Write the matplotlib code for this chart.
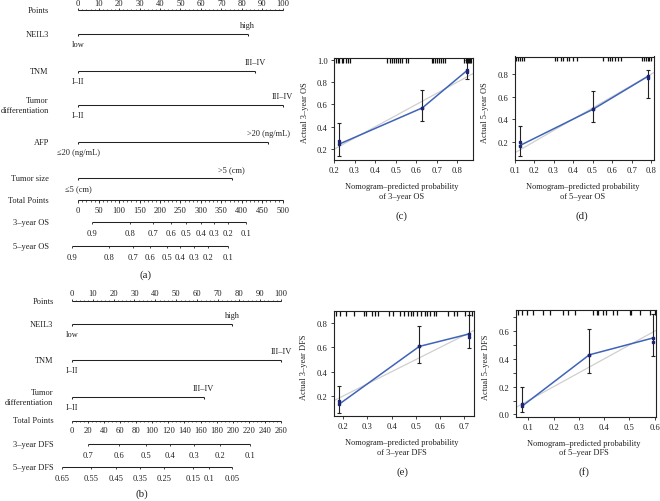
import numpy as np
import matplotlib
matplotlib.use("Agg")
import matplotlib.pyplot as plt

plt.rcParams['font.family'] = ['Liberation Serif', 'DejaVu Serif']

W, H = 660, 502
INK = '#222222'

# ---------------- nomogram (a): overall survival ----------------
a_point_ticks = list(range(0, 101, 10))
a_vars = ["NEIL3", "TNM", "Tumor\ndifferentiation", "AFP", "Tumor size"]
a_low = ["low", "I–II", "I–II", "≤20 (ng/mL)", "≤5 (cm)"]
a_high = ["high", "III–IV", "III–IV", ">20 (ng/mL)", ">5 (cm)"]
a_high_pts = [83, 86.5, 100, 93, 75]
a_total_ticks = list(range(0, 501, 50))
a_total_max = 500
os3_labels = ["0.9", "0.8", "0.7", "0.6", "0.5", "0.4", "0.3", "0.2", "0.1"]
os3_pos = [34, 126, 183, 227, 264, 299, 332, 367, 411]
os5_labels = ["0.9", "0.8", "0.7", "0.6", "0.5", "0.4", "0.3", "0.2", "0.1"]
os5_pos = [-15, 76, 133, 175, 216, 250, 283, 318, 365]

# ---------------- nomogram (b): disease-free survival ----------------
b_point_ticks = list(range(0, 101, 10))
b_vars = ["NEIL3", "TNM", "Tumor\ndifferentiation"]
b_low = ["low", "I–II", "I–II"]
b_high = ["high", "III–IV", "III–IV"]
b_high_pts = [76.7, 100, 63]
b_total_ticks = list(range(0, 261, 20))
b_total_max = 260
dfs3_labels = ["0.7", "0.6", "0.5", "0.4", "0.3", "0.2", "0.1"]
dfs3_pos = [20, 59, 92, 122, 152, 184, 222]
dfs5_labels = ["0.65", "0.55", "0.45", "0.35", "0.25", "0.15", "0.1", "0.05"]
dfs5_pos = [-12, 24, 55, 85, 115, 151, 170, 199]

# ---------------- calibration curves ----------------
c_pred = [0.224, 0.63, 0.848]
c_obs = [0.245, 0.57, 0.905]
c_obs2 = [0.278, 0.57, 0.89]
c_lo = [0.14, 0.448, 0.824]
c_hi = [0.433, 0.73, 1.0]
c_rug = [0.21, 0.22, 0.225, 0.24, 0.245, 0.26, 0.27, 0.28, 0.46, 0.47, 0.48,
         0.49, 0.50, 0.51, 0.52, 0.53, 0.55, 0.56, 0.675, 0.68, 0.69, 0.70,
         0.71, 0.72, 0.73, 0.74, 0.83, 0.84, 0.845, 0.85, 0.855, 0.86, 0.865]

d_pred = [0.126, 0.504, 0.783]
d_obs = [0.165, 0.49, 0.78]
d_obs2 = [0.194, 0.49, 0.762]
d_lo = [0.076, 0.372, 0.587]
d_hi = [0.339, 0.652, 0.84]
d_rug = [0.11, 0.12, 0.13, 0.14, 0.15, 0.31, 0.32, 0.34, 0.35, 0.37, 0.38,
         0.40, 0.42, 0.555, 0.58, 0.59, 0.60, 0.615, 0.63, 0.645, 0.755,
         0.765, 0.775, 0.785, 0.79, 0.80]

e_pred = [0.183, 0.514, 0.72]
e_obs = [0.132, 0.608, 0.711]
e_obs2 = [0.157, 0.608, 0.686]
e_lo = [0.056, 0.47, 0.594]
e_hi = [0.281, 0.78, 0.864]
e_rug = [0.17, 0.187, 0.212, 0.243, 0.285, 0.296, 0.318, 0.33, 0.345, 0.39,
         0.407, 0.436, 0.45, 0.469, 0.48, 0.49, 0.505, 0.522, 0.538, 0.545,
         0.559, 0.575, 0.585, 0.634, 0.656, 0.67, 0.703, 0.718, 0.731]

f_pred = [0.074, 0.341, 0.592]
f_obs = [0.058, 0.429, 0.55]
f_obs2 = [0.077, 0.429, 0.523]
f_lo = [0.017, 0.299, 0.424]
f_hi = [0.195, 0.617, 0.72]
f_rug = [0.06, 0.073, 0.093, 0.119, 0.159, 0.185, 0.238, 0.258, 0.284, 0.356,
         0.37, 0.376, 0.396, 0.409, 0.436, 0.449, 0.502, 0.508, 0.541, 0.581, 0.6]

fig = plt.figure(figsize=(W / 100, H / 100), dpi=100)


def line(ax, xs, ys, lw=0.75):
    ax.plot(xs, ys, color=INK, lw=lw, clip_on=False, solid_capstyle='butt')


def nomogram(x0, x1, label_px, point_y, point_ticks, var_y, names, low, high,
             high_pts, total_y, total_ticks, total_max, total_minor,
             surv_rows, panel, panel_y):
    ax = fig.add_axes([x0 / W, 0, (x1 - x0) / W, 1])
    ax.set_xlim(0, 100)
    ax.set_ylim(H, 0)
    ax.axis('off')
    ppx = (x1 - x0) / 100.0
    lab_x = (label_px - x0) / ppx
    fs_lab, fs_tick = 6.0, 6.1

    # Points scale
    line(ax, [0, 100], [point_y, point_y])
    for v in np.arange(0, 101, 2):
        line(ax, [v, v], [point_y, point_y - 1.5], lw=0.5)
    for v in point_ticks:
        line(ax, [v, v], [point_y, point_y - 2.5], lw=0.6)
        ax.text(v, point_y - 7.5, str(v), ha='center', va='center',
                fontsize=fs_tick, color=INK)
    ax.text(lab_x, point_y, "Points", ha='right', va='center',
            fontsize=fs_lab, color=INK)

    # predictor scales
    for y, name, lo, hi, hp in zip(var_y, names, low, high, high_pts):
        line(ax, [0, hp], [y, y])
        line(ax, [0, 0], [y, y + 2])
        line(ax, [hp, hp], [y, y + 2])
        ax.text(hp, y - 9, hi, ha='center', va='center', fontsize=fs_lab, color=INK)
        ax.text(0, y + 10, lo, ha='center', va='center', fontsize=fs_lab, color=INK)
        ax.text(lab_x, y, name, ha='right', va='center', fontsize=fs_lab,
                color=INK, linespacing=1.2)

    # Total points scale
    k = 100.0 / total_max
    line(ax, [0, 100], [total_y, total_y])
    for v in np.arange(0, total_max + 0.1, total_minor):
        line(ax, [v * k, v * k], [total_y, total_y + 1.5], lw=0.5)
    for v in total_ticks:
        line(ax, [v * k, v * k], [total_y, total_y + 2.5], lw=0.6)
        ax.text(v * k, total_y + 10, str(v), ha='center', va='center',
                fontsize=fs_tick, color=INK)
    ax.text(lab_x, total_y, "Total Points", ha='right', va='center',
            fontsize=fs_lab, color=INK)

    # survival probability scales
    for y, name, labels, pos in surv_rows:
        line(ax, [pos[0] * k, pos[-1] * k], [y, y])
        for lab, p in zip(labels, pos):
            line(ax, [p * k, p * k], [y, y + 2.2], lw=0.6)
            ax.text(p * k, y + 11, lab, ha='center', va='center',
                    fontsize=fs_tick, color=INK)
        ax.text(lab_x, y, name, ha='right', va='center', fontsize=fs_lab, color=INK)

    fig.text(((x0 + x1) / 2 - 35) / W, 1 - panel_y / H, panel, ha='center',
             va='center', fontsize=7.8, color=INK)


nomogram(78.3, 282.7, 48.8, 11, a_point_ticks, [35, 72, 106, 143, 179],
         a_vars, a_low, a_high, a_high_pts, 201, a_total_ticks, a_total_max, 10,
         [(223, "3–year OS", os3_labels, os3_pos),
          (247, "5–year OS", os5_labels, os5_pos)], "(a)", 275)

nomogram(71.7, 281.0, 53.5, 302, b_point_ticks, [325, 361, 398],
         b_vars, b_low, b_high, b_high_pts, 421.5, b_total_ticks, b_total_max, 5,
         [(445, "3–year DFS", dfs3_labels, dfs3_pos),
          (468, "5–year DFS", dfs5_labels, dfs5_pos)], "(b)", 494)


def calib(box, pred, obs, obs2, lo, hi, rug, xlim, ylim, xticks, yticks,
          ylabel, xlabel, letter, ylab_x, minor=None):
    l, r, t, b = box
    ax = fig.add_axes([l / W, 1 - b / H, (r - l) / W, (b - t) / H])
    ax.set_xlim(*xlim)
    ax.set_ylim(*ylim)
    ax.plot(xlim, xlim, color='#cfcfcf', lw=0.9, zorder=1)
    ax.errorbar(pred, obs, yerr=[np.subtract(obs, lo), np.subtract(hi, obs)],
                fmt='none', ecolor=INK, elinewidth=0.8, capsize=1.3,
                capthick=0.8, zorder=2)
    ax.plot(pred, obs, color='#3e63b8', lw=1.1, zorder=3)
    ax.plot(pred, obs, 's', ms=2.0, color='#1d2470', zorder=4)
    ax.plot(pred, obs2, 's', ms=2.0, color='#1d2470', zorder=4)
    ax.vlines(rug, 0.955, 1.0, transform=ax.get_xaxis_transform(),
              color='#111111', lw=0.9)
    ax.set_xticks(xticks)
    ax.set_xticklabels([f"{v:.1f}" for v in xticks])
    ax.set_yticks(yticks)
    ax.set_yticklabels([f"{v:.1f}" for v in yticks])
    if minor is not None:
        ax.set_yticks(minor, minor=True)
    ax.tick_params(labelsize=6.2, length=2.5, width=0.6, pad=2, colors=INK)
    ax.tick_params(which='minor', length=2.5, width=0.6, colors=INK)
    for s in ax.spines.values():
        s.set_linewidth(0.8)
        s.set_color(INK)
    cx = (l + r) / 2
    fig.text(ylab_x / W, 1 - ((t + b) / 2 + 3) / H, ylabel, rotation=90,
             ha='center', va='center', fontsize=6.0, color=INK)
    fig.text((cx - 2) / W, 1 - (b + 31) / H, xlabel, ha='center', va='center',
             fontsize=6.0, color=INK, linespacing=1.25)
    fig.text((cx - 2) / W, 1 - (b + 55) / H, letter, ha='center', va='center',
             fontsize=7.8, color=INK)


calib((334, 473, 59, 161), c_pred, c_obs, c_obs2, c_lo, c_hi, c_rug,
      (0.2, 0.876), (0.104, 1.015), [0.2, 0.3, 0.4, 0.5, 0.6, 0.7, 0.8],
      [0.2, 0.4, 0.6, 0.8, 1.0], "Actual 3–year OS",
      "Nomogram–predicted probability\nof 3–year OS", "(c)", 305)

calib((514.5, 654, 57.5, 161), d_pred, d_obs, d_obs2, d_lo, d_hi, d_rug,
      (0.1, 0.815), (0.038, 0.957), [0.1, 0.2, 0.3, 0.4, 0.5, 0.6, 0.7, 0.8],
      [0.2, 0.4, 0.6, 0.8], "Actual 5–year OS",
      "Nomogram–predicted probability\nof 5–year OS", "(d)", 485)

calib((334, 474, 312, 417), e_pred, e_obs, e_obs2, e_lo, e_hi, e_rug,
      (0.162, 0.74), (0.035, 0.9), [0.2, 0.3, 0.4, 0.5, 0.6, 0.7],
      [0.2, 0.4, 0.6, 0.8], "Actual 3–year DFS",
      "Nomogram–predicted probability\nof 3–year DFS", "(e)", 304)

calib((515.5, 656, 311, 417.5), f_pred, f_obs, f_obs2, f_lo, f_hi, f_rug,
      (0.049, 0.605), (-0.015, 0.752), [0.1, 0.2, 0.3, 0.4, 0.5, 0.6],
      [0.0, 0.2, 0.4, 0.6], "Actual 5–year DFS",
      "Nomogram–predicted probability\nof 5–year DFS", "(f)", 486,
      minor=[0.1, 0.3, 0.5, 0.7])

fig.savefig("out.png", dpi=100)
